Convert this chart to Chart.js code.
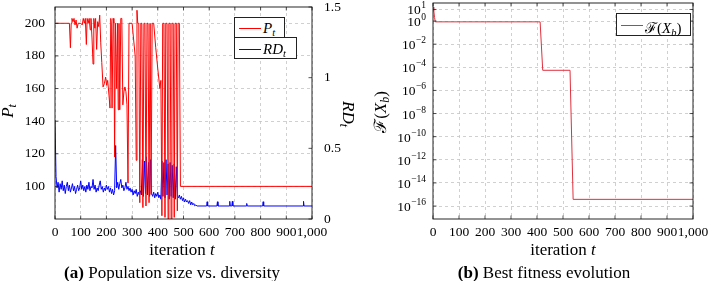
<!DOCTYPE html>
<html>
<head>
<meta charset="utf-8">
<script src="https://cdn.jsdelivr.net/npm/chart.js@4/dist/chart.umd.min.js"></script>
<style>
body{margin:0;background:#fff;width:709px;height:281px;overflow:hidden;position:relative;font-family:"Liberation Serif",serif;color:#000}
canvas{position:absolute;top:0}
#ca{left:0}
#cb{left:355px}
.t{position:absolute;white-space:nowrap;line-height:1}
.c{transform:translateX(-50%)}
.lg{position:absolute;box-sizing:border-box;border:1px solid #222;background:#fff;font-size:15px;white-space:nowrap}
.lg .ln{position:absolute;display:block;left:4px;width:22px;height:1px}
.lg .tx{position:absolute;left:28px}
sub{font-size:70%;vertical-align:-3px;font-style:italic}
</style>
</head>
<body>
<canvas id="ca" width="355" height="281"></canvas>
<canvas id="cb" width="354" height="281"></canvas>

<div class="t c" style="left:182px;top:241px;font-size:17px">iteration <i>t</i></div>
<div class="t c" style="left:563px;top:241px;font-size:17px">iteration <i>t</i></div>
<div class="t c" style="left:172px;top:264px;font-size:17px"><b>(a)</b> Population size vs. diversity</div>
<div class="t c" style="left:544px;top:264px;font-size:17px"><b>(b)</b> Best fitness evolution</div>

<div class="t" style="left:9px;top:111px;font-size:17px;transform:translate(-50%,-50%) rotate(-90deg)"><i>P</i><sub>t</sub></div>
<div class="t" style="left:347px;top:114px;font-size:17px;transform:translate(-50%,-50%) rotate(90deg)"><i>RD</i><sub>t</sub></div>
<div class="t" style="left:382px;top:112px;font-size:17px;transform:translate(-50%,-50%) rotate(-90deg)">ℱ(<i>X</i><sub>b</sub>)</div>

<div class="lg" style="left:234px;top:17px;width:51px;height:21px"><span class="ln" style="top:10px;background:#f00"></span><span class="tx" style="top:2px"><i>P</i><sub>t</sub></span></div>
<div class="lg" style="left:234px;top:37px;width:63px;height:22px"><span class="ln" style="top:11px;background:#00f"></span><span class="tx" style="top:3px"><i>RD</i><sub>t</sub></span></div>
<div class="lg" style="left:616px;top:13px;width:75px;height:23px"><span class="ln" style="top:11px;background:#e0303c"></span><span class="tx" style="top:3px">ℱ(<i>X</i><sub>b</sub>)</span></div>

<script>
// population size P_t (iteration, value)
const tP = [0,56,60,63,66,70,74,78,82,86,90,100,106,110,114,118,122,125,129,133,137,140,144,148,151,155,158,162,166,170,174,178,182,187,192,197,201,205,210,214,217,219,222,226,229,232,235,240,243,246,249,252,256,260,264,268,272,276,280,284,288,300,312,316,319,322,326,330,334,338,342,346,350,354,358,362,366,370,374,378,384,392,400,408,412,416,419,424,428,431,436,440,443,448,452,455,460,464,467,472,476,479,484,488,1000];
const P  = [200,200,185,200,203,201,203,199,202,197,200,200,199,203,200,203,187,203,200,203,196,203,191,175,203,197,203,184,201,198,205,188,176,161,163,167,162,165,156,148,203,200,148,203,200,118,200,160,200,147,200,147,203,203,150,158,161,158,150,102,200,200,180,116,208,200,200,90,200,200,87,200,200,88,200,200,90,200,95,200,200,185,172,160,165,82,200,200,81,200,200,80,200,200,78,200,200,81,200,200,85,200,200,100,100];

// relative diversity RD_t, one value every 4 iterations from 0 to 556
const rdDense = [0.70,0.30,0.22,0.26,0.19,0.25,0.21,0.27,0.20,0.24,0.18,0.23,0.26,0.20,0.24,0.19,0.22,0.25,0.20,0.23,
  0.18,0.21,0.24,0.20,0.22,0.27,0.21,0.24,0.20,0.23,0.19,0.24,0.21,0.26,0.20,0.23,0.22,0.28,0.21,0.24,
  0.19,0.22,0.20,0.24,0.27,0.21,0.23,0.19,0.22,0.20,0.24,0.21,0.23,0.19,0.22,0.18,0.21,0.17,0.20,0.52,
  0.22,0.26,0.21,0.25,0.28,0.22,0.24,0.20,0.22,0.26,0.21,0.23,0.20,0.22,0.19,0.21,0.17,0.20,0.18,0.21,
  0.16,0.19,0.17,0.20,0.17,0.42,0.16,0.41,0.18,0.44,0.17,0.40,0.16,0.42,0.18,0.16,0.19,0.15,0.18,0.16,
  0.19,0.15,0.17,0.14,0.41,0.16,0.40,0.15,0.42,0.17,0.39,0.14,0.40,0.16,0.38,0.15,0.39,0.14,0.37,0.16,
  0.15,0.17,0.14,0.16,0.13,0.15,0.12,0.14,0.12,0.13,0.11,0.13,0.10,0.12,0.10,0.11,0.093,0.10,0.092,0.092];
const rdTailT = [590,592,594,630,632,634,678,680,682,688,690,692,744,746,748,808,810,812,965,967,969,1000];
const rdTailV = [0.092,0.122,0.092,0.092,0.122,0.092,0.092,0.125,0.092,0.092,0.125,0.092,0.092,0.110,0.092,0.092,0.122,0.092,0.092,0.125,0.092,0.092];

// best fitness F(X_b)
const tF = [0,3,6,9,412,422,527,539,1000];
const F  = [16,8,2,0.85,0.85,5.5e-5,5.5e-5,3.8e-16,3.8e-16];

const pTicks = [100,120,140,160,180,200];
const rdTicks = [0,0.5,1,1.5];
const logExp = [-16,-14,-12,-10,-8,-6,-4,-2,0,1];

const FONT = 'Liberation Serif';
const GRID = '#c4c4c4';

const frame = {
  id: 'frame',
  afterDraw(c) {
    const a = c.chartArea, ctx = c.ctx;
    ctx.save();
    ctx.strokeStyle = '#111';
    ctx.lineWidth = 0.9;
    ctx.strokeRect(a.left, a.top, a.right - a.left, a.bottom - a.top);
    // small inward tick marks like pgfplots
    ctx.lineWidth = 0.7;
    ctx.beginPath();
    c.scales.x.ticks.forEach(t => {
      const px = c.scales.x.getPixelForValue(t.value);
      ctx.moveTo(px, a.bottom); ctx.lineTo(px, a.bottom - 3.5);
      ctx.moveTo(px, a.top); ctx.lineTo(px, a.top + 3.5);
    });
    c.scales.y.ticks.forEach(t => {
      const py = c.scales.y.getPixelForValue(t.value);
      ctx.moveTo(a.left, py); ctx.lineTo(a.left + 3.5, py);
      if (!c.scales.y2) { ctx.moveTo(a.right, py); ctx.lineTo(a.right - 3.5, py); }
    });
    if (c.scales.y2) {
      c.scales.y2.ticks.forEach(t => {
        const py = c.scales.y2.getPixelForValue(t.value);
        ctx.moveTo(a.right, py); ctx.lineTo(a.right - 3.5, py);
      });
    }
    ctx.stroke();
    ctx.restore();
  }
};

// 10^e labels with a raised exponent, placed on the log scale
const powLabels = {
  id: 'powLabels',
  afterDraw(c) {
    const s = c.scales.y, ctx = c.ctx, right = c.chartArea.left - 7;
    ctx.save();
    ctx.fillStyle = '#000';
    ctx.textBaseline = 'alphabetic';
    s.ticks.forEach(t => {
      const e = Math.round(Math.log10(t.value));
      const py = s.getPixelForValue(t.value);
      const ex = (e < 0 ? '\u2212' : '') + Math.abs(e);
      ctx.font = '9.5px "' + FONT + '"';
      const ew = ctx.measureText(ex).width;
      ctx.textAlign = 'left';
      ctx.fillText(ex, right - ew, py - 1);
      ctx.font = '13.5px "' + FONT + '"';
      ctx.textAlign = 'right';
      ctx.fillText('10', right - ew - 0.5, py + 5);
    });
    ctx.restore();
  }
};

function xAxis() {
  return {
    type: 'linear', min: 0, max: 1000,
    ticks: {stepSize: 100, autoSkip: false, maxRotation: 0, color: '#000', padding: 5, font: {family: FONT, size: 13.5}},
    grid: {color: GRID, lineWidth: 0.8, drawTicks: false},
    border: {display: false, dash: [3, 3]},
    afterFit(s) { s.height = 62; s.paddingLeft = 0; s.paddingRight = 0; }
  };
}

function noPad(w) {
  return s => { s.width = w; s.paddingTop = 0; s.paddingBottom = 0; };
}

new Chart(document.getElementById('ca'), {
  type: 'line',
  data: {
    datasets: [
      {label: 'P_t', yAxisID: 'y', data: tP.map((t, i) => ({x: t, y: P[i]})),
       borderColor: '#ff0000', borderWidth: 1, pointRadius: 0, tension: 0},
      {label: 'RD_t', yAxisID: 'y2',
       data: rdDense.map((v, i) => ({x: i * 4, y: v})).concat(rdTailT.map((t, i) => ({x: t, y: rdTailV[i]}))),
       borderColor: '#0000ff', borderWidth: 1, pointRadius: 0, tension: 0}
    ]
  },
  options: {
    responsive: false, animation: false,
    layout: {padding: {top: 7, left: 0, right: 0, bottom: 0}},
    plugins: {legend: {display: false}, tooltip: {enabled: false}},
    scales: {
      x: xAxis(),
      y: {
        type: 'linear', min: 80, max: 210, position: 'left',
        afterBuildTicks(s) { s.ticks = pTicks.map(v => ({value: v})); },
        ticks: {color: '#000', padding: 10, font: {family: FONT, size: 13.5}},
        grid: {color: GRID, lineWidth: 0.8, drawTicks: false},
        border: {display: false, dash: [3, 3]},
        afterFit: noPad(55)
      },
      y2: {
        type: 'linear', min: 0, max: 1.5, position: 'right',
        afterBuildTicks(s) { s.ticks = rdTicks.map(v => ({value: v})); },
        ticks: {color: '#000', padding: 4, font: {family: FONT, size: 13.5}, callback: v => String(v)},
        grid: {display: false},
        border: {display: false},
        afterFit: noPad(43)
      }
    }
  },
  plugins: [frame]
});

new Chart(document.getElementById('cb'), {
  type: 'line',
  data: {
    datasets: [
      {label: 'F(X_b)', data: tF.map((t, i) => ({x: t, y: F[i]})),
       borderColor: '#e0303c', borderWidth: 1, pointRadius: 0, tension: 0}
    ]
  },
  options: {
    responsive: false, animation: false,
    layout: {padding: {top: 3, left: 0, right: 16, bottom: 0}},
    plugins: {legend: {display: false}, tooltip: {enabled: false}},
    scales: {
      x: xAxis(),
      y: {
        type: 'logarithmic', min: Math.pow(10, -17.12), max: Math.pow(10, 1.56),
        afterBuildTicks(s) { s.ticks = logExp.map(e => ({value: Math.pow(10, e)})); },
        ticks: {display: false},
        grid: {color: GRID, lineWidth: 0.8, drawTicks: false},
        border: {display: false, dash: [3, 3]},
        afterFit: noPad(78)
      }
    }
  },
  plugins: [frame, powLabels]
});
</script>
</body>
</html>
